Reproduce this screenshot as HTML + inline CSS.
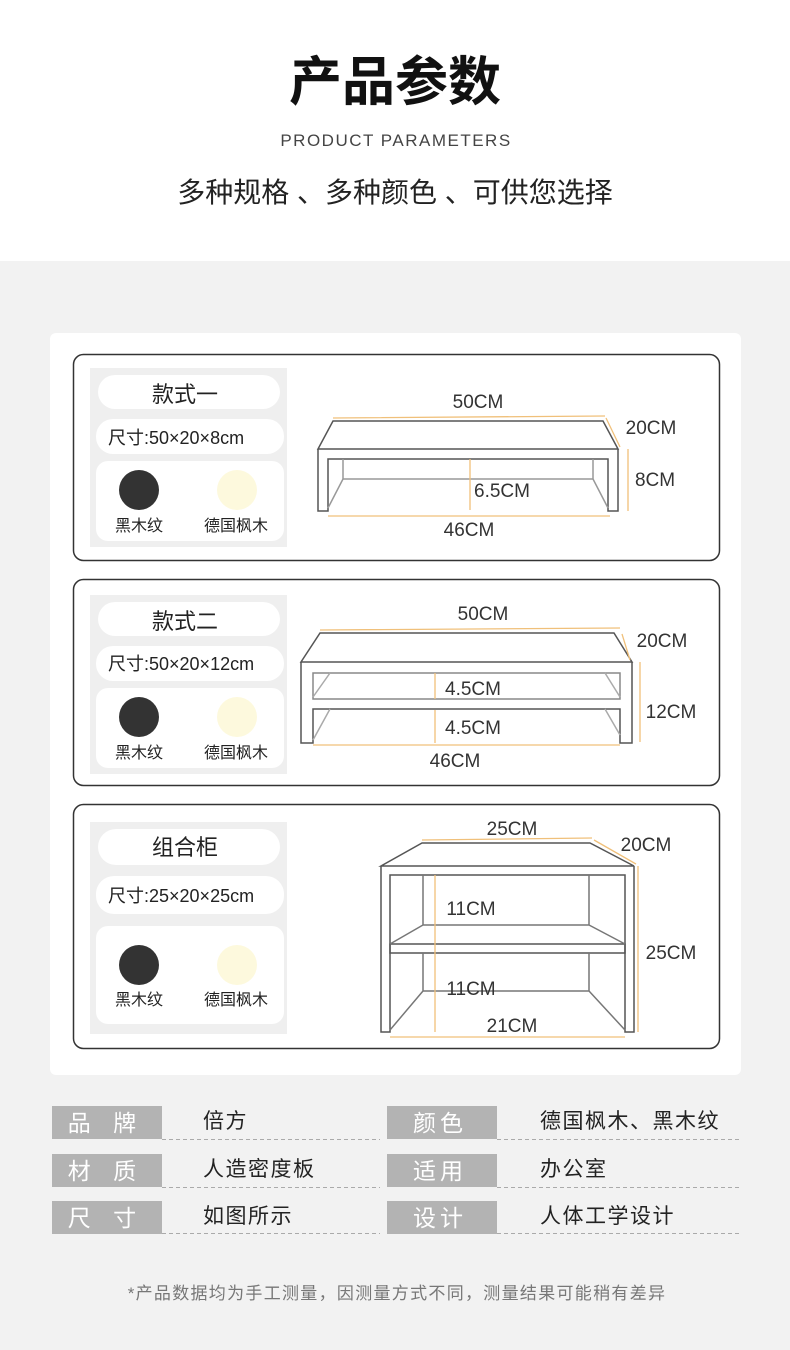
<!DOCTYPE html>
<html><head><meta charset="utf-8"><style>
html,body{margin:0;padding:0;background:#f2f2f2;}
svg{display:block}
text{font-family:"Liberation Sans","Noto Sans CJK SC",sans-serif;}
</style></head><body>
<svg width="790" height="1350" viewBox="0 0 790 1350" xmlns="http://www.w3.org/2000/svg">
<rect x="0" y="0" width="790" height="261" fill="#fff"/>
<rect x="0" y="261" width="790" height="1089" fill="#f2f2f2"/>
<text x="395" y="100" font-size="53" font-weight="bold" text-anchor="middle" fill="#111">产品参数</text>
<text x="396" y="146" font-size="17" text-anchor="middle" fill="#444" letter-spacing="1.5">PRODUCT PARAMETERS</text>
<text x="395" y="202" font-size="28" text-anchor="middle" fill="#222">多种规格 、多种颜色 、可供您选择</text>

<rect x="50" y="333" width="691" height="742" rx="6" fill="#fff"/>

<g fill="none" stroke="#333" stroke-width="1.5">
<rect x="73.5" y="354.5" width="646" height="206" rx="10"/>
<rect x="73.5" y="579.5" width="646" height="206" rx="10"/>
<rect x="73.5" y="804.5" width="646" height="244" rx="10"/>
</g>

<g>
<rect x="90" y="368" width="197" height="179" fill="#efefef"/>
<rect x="98" y="375" width="182" height="34" rx="17" fill="#fff"/>
<rect x="96" y="419" width="188" height="35" rx="17" fill="#fff"/>
<rect x="96" y="461" width="188" height="80" rx="12" fill="#fff"/>
<text x="185" y="402" font-size="22" text-anchor="middle" fill="#222">款式一</text>
<text x="108" y="444" font-size="18" fill="#222">尺寸:50×20×8cm</text>
<circle cx="139" cy="490" r="20" fill="#333"/>
<circle cx="237" cy="490" r="20" fill="#fdf9dd"/>
<text x="139" y="531" font-size="16" text-anchor="middle" fill="#222">黑木纹</text>
<text x="236" y="531" font-size="16" text-anchor="middle" fill="#222">德国枫木</text>
</g>
<g>
<rect x="90" y="595" width="197" height="179" fill="#efefef"/>
<rect x="98" y="602" width="182" height="34" rx="17" fill="#fff"/>
<rect x="96" y="646" width="188" height="35" rx="17" fill="#fff"/>
<rect x="96" y="688" width="188" height="80" rx="12" fill="#fff"/>
<text x="185" y="629" font-size="22" text-anchor="middle" fill="#222">款式二</text>
<text x="108" y="670" font-size="18" fill="#222">尺寸:50×20×12cm</text>
<circle cx="139" cy="717" r="20" fill="#333"/>
<circle cx="237" cy="717" r="20" fill="#fdf9dd"/>
<text x="139" y="758" font-size="16" text-anchor="middle" fill="#222">黑木纹</text>
<text x="236" y="758" font-size="16" text-anchor="middle" fill="#222">德国枫木</text>
</g>
<g>
<rect x="90" y="822" width="197" height="212" fill="#efefef"/>
<rect x="98" y="829" width="182" height="36" rx="18" fill="#fff"/>
<rect x="96" y="876" width="188" height="38" rx="18" fill="#fff"/>
<rect x="96" y="926" width="188" height="98" rx="12" fill="#fff"/>
<text x="185" y="855" font-size="22" text-anchor="middle" fill="#222">组合柜</text>
<text x="108" y="902" font-size="18" fill="#222">尺寸:25×20×25cm</text>
<circle cx="139" cy="965" r="20" fill="#333"/>
<circle cx="237" cy="965" r="20" fill="#fdf9dd"/>
<text x="139" y="1005" font-size="16" text-anchor="middle" fill="#222">黑木纹</text>
<text x="236" y="1005" font-size="16" text-anchor="middle" fill="#222">德国枫木</text>
</g>

<g fill="none" stroke="#555" stroke-width="1.5">
<path d="M333 421 L603 421 L618 449 L318 449 Z"/>
<path d="M318 449 L318 511 L328 511 L328 459 L608 459 L608 511 L618 511 L618 449"/>
<path d="M343 459 L343 479 L593 479 L593 459" stroke="#999"/>
<path d="M343 479 L328 508 M593 479 L608 508" stroke="#999"/>
</g>
<g stroke="#f0c07a" stroke-width="1.3" fill="none">
<path d="M333 418 L605 416 M606 418 L620 447 M628 449 L628 511 M470 459 L470 510 M328 516 L610 516"/>
</g>
<g font-size="19" fill="#333" text-anchor="middle">
<text x="478" y="408">50CM</text><text x="651" y="434">20CM</text><text x="655" y="486">8CM</text>
<text x="502" y="497">6.5CM</text><text x="469" y="536">46CM</text>
</g>

<g fill="none" stroke="#555" stroke-width="1.5">
<path d="M320 633 L614 633 L632 662 L301 662 Z"/>
<path d="M301 662 L301 743 L313 743 L313 709 L620 709 L620 743 L632 743 L632 662"/>
<rect x="313" y="673" width="307" height="26" stroke="#888"/>
<path d="M330 673 L313 697 M605 673 L620 697 M330 709 L313 740 M605 709 L620 735" stroke="#aaa"/>
</g>
<g stroke="#f0c07a" stroke-width="1.3" fill="none">
<path d="M320 630 L620 628 M622 634 L630 660 M640 662 L640 742 M435 673 L435 699 M435 710 L435 743 M313 745 L620 745"/>
</g>
<g font-size="19" fill="#333" text-anchor="middle">
<text x="483" y="620">50CM</text><text x="662" y="647">20CM</text><text x="671" y="718">12CM</text>
<text x="473" y="695">4.5CM</text><text x="473" y="734">4.5CM</text><text x="455" y="767">46CM</text>
</g>

<g fill="none" stroke="#555" stroke-width="1.5">
<path d="M422 843 L590 843 L634 866 L381 866 Z"/>
<path d="M381 866 L381 1032 L390 1032 L390 875 L625 875 L625 1032 L634 1032 L634 866"/>
<path d="M390 944 L625 944 L625 953 L390 953 Z"/>
<path d="M423 875 L423 925 L589 925 L589 875 M423 925 L390 944 M589 925 L625 944" stroke="#777"/>
<path d="M423 953 L423 991 L589 991 L589 953 M423 991 L390 1030 M589 991 L625 1030" stroke="#777"/>
</g>
<g stroke="#f0c07a" stroke-width="1.3" fill="none">
<path d="M422 840 L592 838 M594 840 L636 864 M638 866 L638 1032 M435 875 L435 1032 M390 1037 L625 1037"/>
</g>
<g font-size="19" fill="#333" text-anchor="middle">
<text x="512" y="835">25CM</text><text x="646" y="851">20CM</text><text x="671" y="959">25CM</text>
<text x="471" y="915">11CM</text><text x="471" y="995">11CM</text><text x="512" y="1032">21CM</text>
</g>

<g fill="#b3b3b3">
<rect x="52" y="1106" width="110" height="33"/><rect x="387" y="1106" width="110" height="33"/>
<rect x="52" y="1154" width="110" height="33"/><rect x="387" y="1154" width="110" height="33"/>
<rect x="52" y="1201" width="110" height="33"/><rect x="387" y="1201" width="110" height="33"/>
</g>
<g stroke="#aaa" stroke-width="1" stroke-dasharray="4 3">
<path d="M162 1139.5 H380 M497 1139.5 H740 M162 1187.5 H380 M497 1187.5 H740 M162 1233.5 H380 M497 1233.5 H740"/>
</g>
<g font-size="23" fill="#fff" text-anchor="middle">
<text x="106" y="1131" letter-spacing="8">品 牌</text><text x="440" y="1131" letter-spacing="4">颜色</text>
<text x="106" y="1179" letter-spacing="8">材 质</text><text x="440" y="1179" letter-spacing="4">适用</text>
<text x="106" y="1226" letter-spacing="8">尺 寸</text><text x="440" y="1226" letter-spacing="4">设计</text>
</g>
<g font-size="21" fill="#222" letter-spacing="1.5">
<text x="203" y="1128">倍方</text><text x="540" y="1128">德国枫木、黑木纹</text>
<text x="203" y="1176">人造密度板</text><text x="540" y="1176">办公室</text>
<text x="203" y="1223">如图所示</text><text x="540" y="1223">人体工学设计</text>
</g>
<text x="397" y="1299" font-size="17" text-anchor="middle" fill="#777" letter-spacing="1.3">*产品数据均为手工测量，因测量方式不同，测量结果可能稍有差异</text>
</svg>
</body></html>
